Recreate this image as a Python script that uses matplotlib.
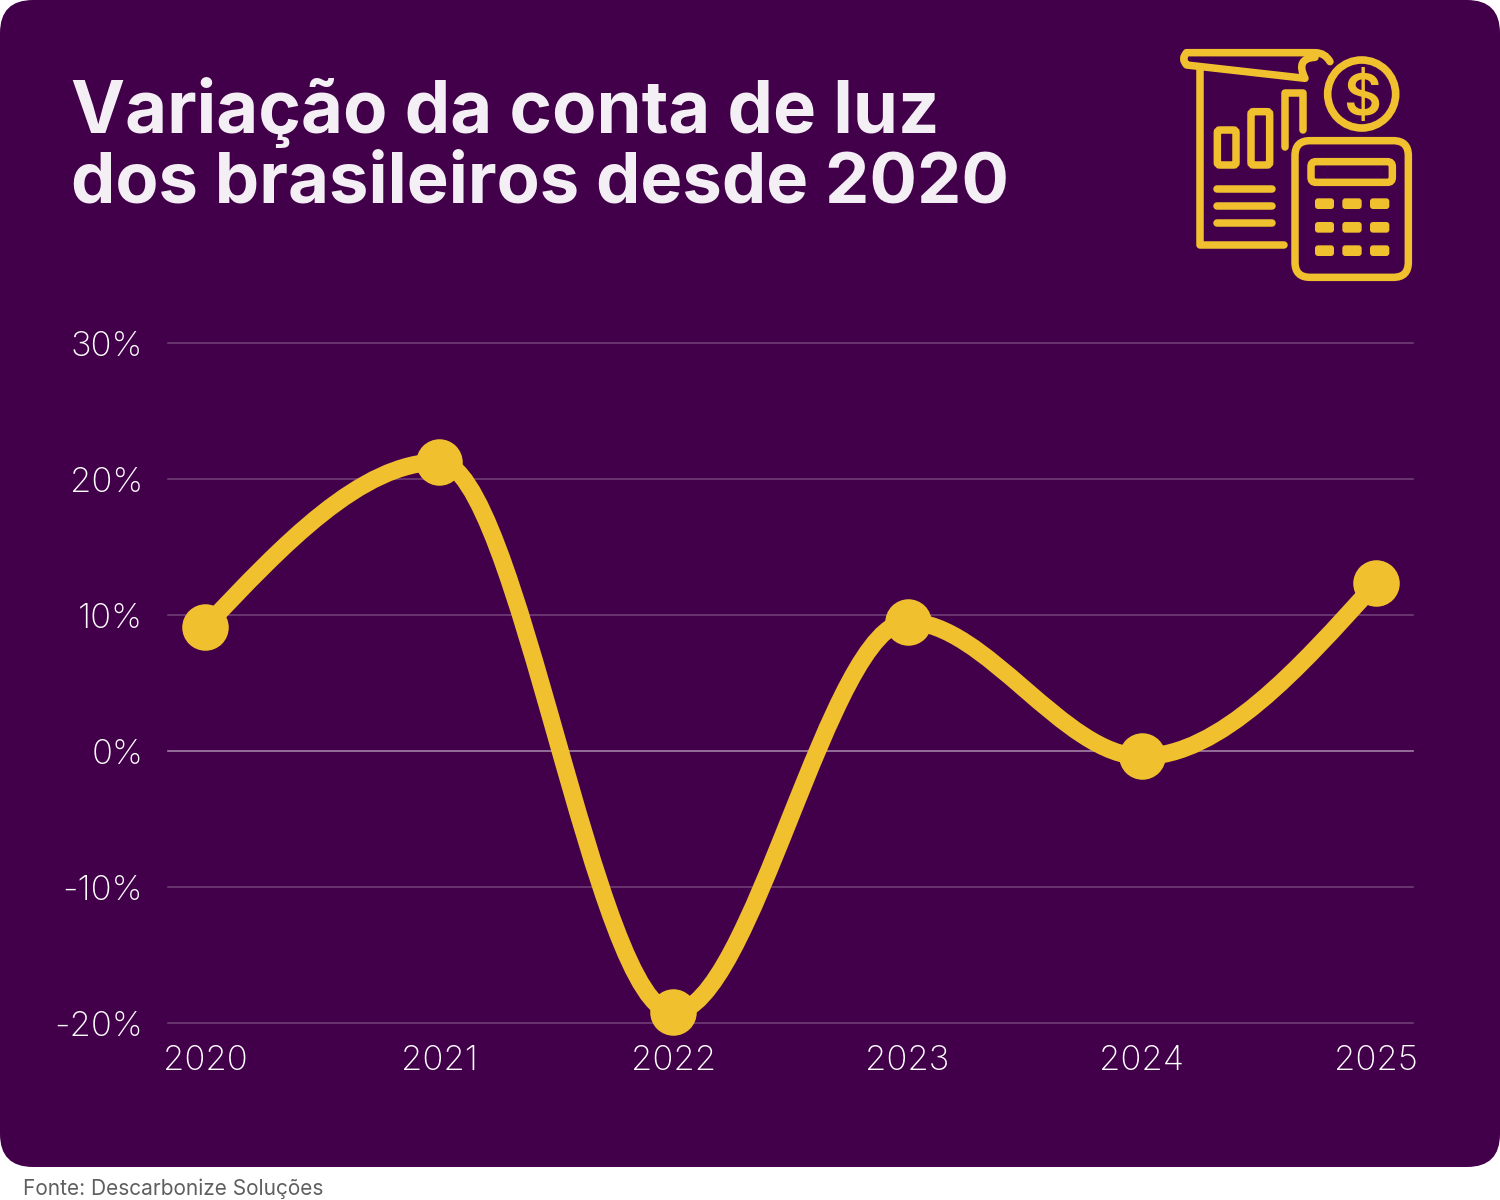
import matplotlib

matplotlib.use("Agg")
import matplotlib.pyplot as plt
import numpy as np
from matplotlib.patches import Circle, FancyBboxPatch, PathPatch
from matplotlib.path import Path

years = [2020, 2021, 2022, 2023, 2024, 2025]
variation = [9.1, 21.25, -19.2, 9.5, -0.4, 12.35]
y_ticks = [-20, -10, 0, 10, 20, 30]
y_labels = ["-20%", "-10%", "0%", "10%", "20%", "30%"]

title_lines = ["Variação da conta de luz", "dos brasileiros desde 2020"]
source = "Fonte: Descarbonize Soluções"

PURPLE = "#42004A"
YELLOW = "#F0C02F"
FONT = "Inter"
W, H = 1500, 1200
ICON_LW = 5.4


def monotone_path(xs, ys):
    # same tangents as d3 curveMonotoneX, gives the flat tops at each year
    xs = np.asarray(xs, dtype=float)
    ys = np.asarray(ys, dtype=float)
    h = np.diff(xs)
    s = np.diff(ys) / h
    t = np.zeros_like(ys)
    for i in range(1, len(ys) - 1):
        p = (s[i - 1] * h[i] + s[i] * h[i - 1]) / (h[i - 1] + h[i])
        t[i] = (np.sign(s[i - 1]) + np.sign(s[i])) * min(abs(s[i - 1]), abs(s[i]), 0.5 * abs(p))
    t[0] = (3 * s[0] - t[1]) / 2
    t[-1] = (3 * s[-1] - t[-2]) / 2
    verts = [(xs[0], ys[0])]
    codes = [Path.MOVETO]
    for i in range(len(h)):
        verts += [
            (xs[i] + h[i] / 3, ys[i] + h[i] * t[i] / 3),
            (xs[i + 1] - h[i] / 3, ys[i + 1] - h[i] * t[i + 1] / 3),
            (xs[i + 1], ys[i + 1]),
        ]
        codes += [Path.CURVE4] * 3
    return Path(verts, codes)


fig = plt.figure(figsize=(W / 100, H / 100), dpi=100, facecolor="white")

# overlay in pixel coordinates for the card, the texts and the icon
bg = fig.add_axes([0, 0, 1, 1], zorder=0)
bg.set_xlim(0, W)
bg.set_ylim(H, 0)
bg.axis("off")
bg.add_patch(FancyBboxPatch((33, 33), W - 66, 1167 - 66, boxstyle="round,pad=33,rounding_size=33",
                            fc=PURPLE, ec="none"))
for line, y, size in zip(title_lines, [112, 184], [52.2, 50.8]):
    bg.text(71, y, line, color="#F4EFF5", fontsize=size, fontweight="bold", family=FONT, va="center")
bg.text(23, 1189, source, color="#5F5F5F", fontsize=15, family=FONT, va="center")


def zx(v):
    return 1160 + v / 3


def zy(v):
    return 30 + v / 3


def stroke(points, lw=ICON_LW):
    pts = np.array([(zx(a), zy(b)) for a, b in points])
    bg.plot(pts[:, 0], pts[:, 1], color=YELLOW, lw=lw, solid_capstyle="round", solid_joinstyle="round")


def rounded(x0, y0, x1, y1, r, filled=False, lw=ICON_LW):
    bx, by, bw, bh = zx(x0), zy(y0), (x1 - x0) / 3, (y1 - y0) / 3
    r = r / 3
    bg.add_patch(FancyBboxPatch((bx + r, by + r), bw - 2 * r, bh - 2 * r, boxstyle=f"round,pad={r},rounding_size={r}",
                                fc=YELLOW if filled else "none", ec="none" if filled else YELLOW, lw=lw))


# paper sheet
curl = Path([(zx(80), zy(68)), (zx(465), zy(68)), (zx(495), zy(68)), (zx(510), zy(95))],
            [Path.MOVETO, Path.LINETO, Path.CURVE3, Path.CURVE3])
bg.add_patch(PathPatch(curl, fc="none", ec=YELLOW, lw=ICON_LW, capstyle="round"))
roll = Path([(zx(80), zy(68)), (zx(62), zy(86)), (zx(80), zy(105)), (zx(435), zy(145)),
             (zx(405), zy(85)), (zx(465), zy(82))],
            [Path.MOVETO, Path.CURVE3, Path.CURVE3, Path.LINETO, Path.CURVE3, Path.CURVE3])
bg.add_patch(PathPatch(roll, fc="none", ec=YELLOW, lw=ICON_LW, capstyle="round", joinstyle="round"))
stroke([(120, 115), (120, 645), (372, 645)])

# little bars on the sheet
rounded(172, 300, 228, 405, 8)
rounded(273, 245, 329, 405, 8)
stroke([(375, 350), (375, 188), (430, 188), (430, 300)])
for ly in [476, 527, 578]:
    stroke([(172, ly), (335, ly)])

# coin
bg.add_patch(Circle((zx(605), zy(192)), 34, fc="none", ec=YELLOW, lw=5.5))
bg.text(zx(605), zy(192), "$", color=YELLOW, fontsize=42, fontweight="semibold", family=FONT, ha="center",
        va="center_baseline")

# calculator
rounded(405, 332, 745, 742, 45)
rounded(453, 395, 697, 457, 15)
for ky0, ky1 in [(505, 537), (576, 608), (646, 678)]:
    for kx0, kx1 in [(465, 522), (547, 605), (630, 688)]:
        rounded(kx0, ky0, kx1, ky1, 9, filled=True)

# chart, axes edges sit on the 30% and -20% gridlines
step = (1376 - 205) / (years[-1] - years[0])
ax = fig.add_axes([168 / W, 1 - 1023 / H, (1413 - 168) / W, (1023 - 343) / H], zorder=1)
ax.patch.set_alpha(0)
ax.set_xlim(years[0] - (205 - 168) / step, years[-1] + (1413 - 1376) / step)
ax.set_ylim(y_ticks[0], y_ticks[-1])
for spine in ax.spines.values():
    spine.set_visible(False)
for tick in y_ticks:
    ax.axhline(tick, color="white", alpha=0.5 if tick == 0 else 0.24, lw=1.2, zorder=1, clip_on=False)
ax.add_patch(PathPatch(monotone_path(years, variation), fc="none", ec=YELLOW, lw=12.5, capstyle="round", zorder=3,
                       clip_on=False))
ax.plot(years, variation, ls="none", marker="o", ms=33.5, mfc=YELLOW, mec="none", zorder=4, clip_on=False)
ax.set_xticks(years)
ax.set_xticklabels([str(y) for y in years])
ax.set_yticks(y_ticks)
ax.set_yticklabels(y_labels)
ax.tick_params(axis="both", length=0, labelcolor="white", labelsize=25)
ax.tick_params(axis="x", pad=16)
ax.tick_params(axis="y", pad=18)
for label in ax.get_xticklabels() + ax.get_yticklabels():
    label.set_family(FONT)
    label.set_fontweight("light")

fig.savefig("out.png", dpi=100, facecolor="white")
